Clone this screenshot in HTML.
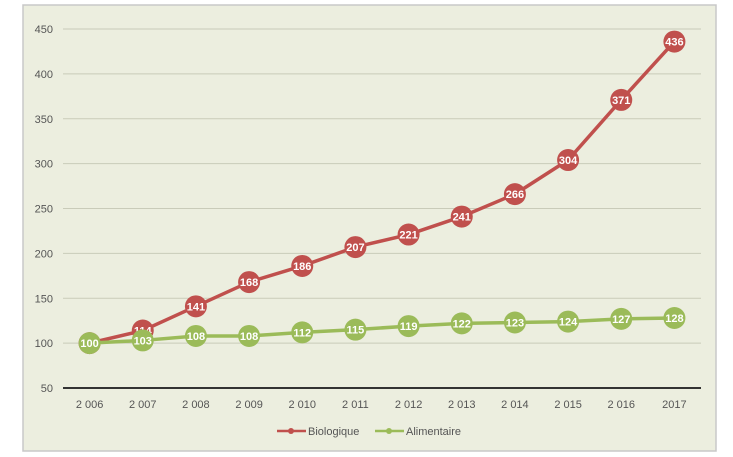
<!DOCTYPE html>
<html><head><meta charset="utf-8"><style>
html,body{margin:0;padding:0;background:#fff;width:733px;height:457px;overflow:hidden}
svg{display:block;font-family:"Liberation Sans",sans-serif}
</style></head><body>
<svg width="733" height="457">
<rect x="23" y="5" width="693" height="446" fill="#eceedf" stroke="#c8c8c8" stroke-width="1.5"/>
<g id="grid"></g><g id="series"></g>
<g>
 <g>
  <line x1="277" y1="431" x2="306" y2="431" stroke="#c0504d" stroke-width="2.5"/><circle cx="291" cy="431" r="3" fill="#c0504d"/>
  <text x="308" y="435" font-size="11" fill="#555">Biologique</text></g>
 <g>
  <line x1="375" y1="431" x2="404" y2="431" stroke="#9bbb59" stroke-width="2.5"/><circle cx="389" cy="431" r="3" fill="#9bbb59"/>
  <text x="406" y="435" font-size="11" fill="#555">Alimentaire</text></g>
</g>
</svg>
<script>
const categories=["2 006","2 007","2 008","2 009","2 010","2 011","2 012","2 013","2 014","2 015","2 016","2017"];
const biologique=[100,114,141,168,186,207,221,241,266,304,371,436];
const alimentaire=[100,103,108,108,112,115,119,122,123,124,127,128];
const yTicks=[50,100,150,200,250,300,350,400,450];
const NS="http://www.w3.org/2000/svg";
const x0=63,x1=701,yMin=50,yMax=450,py0=388,py1=29;
const bw=(x1-x0)/categories.length;
const xs=i=>x0+bw*(i+0.5);
const ys=v=>py0-(v-yMin)/(yMax-yMin)*(py0-py1);
function mk(t,a,p){const e=document.createElementNS(NS,t);for(const k in a)e.setAttribute(k,a[k]);p.appendChild(e);return e;}
const g=document.getElementById('grid');
yTicks.forEach(v=>{
 const l=mk('line',{x1:x0,x2:x1,y1:ys(v),y2:ys(v),stroke:v===50?'#333':'#c9cbb9','stroke-width':v===50?2:1},g);
 
 
 const t=mk('text',{x:53,y:ys(v)+4,'text-anchor':'end','font-size':11,fill:'#555'},g);t.textContent=v;
 
 
});
categories.forEach((c,i)=>{
 const t=mk('text',{x:xs(i),y:408,'text-anchor':'middle','font-size':11,fill:'#555'},g);t.textContent=c;
 
 
});
const s=document.getElementById('series');
function draw(data,color,name){
 const grp=mk('g',{},s);
 
 
 const pl=mk('polyline',{points:data.map((v,i)=>xs(i)+','+ys(v)).join(' '),fill:'none',stroke:color,'stroke-width':3.5},grp);
 
 
 data.forEach((v,i)=>{
  const c=mk('circle',{cx:xs(i),cy:ys(v),r:11,fill:color},grp);
  
  
  const t=mk('text',{x:xs(i),y:ys(v)+4,'text-anchor':'middle','font-size':11,'font-weight':'bold',fill:'#fff'},grp);t.textContent=v;
  
  
 });
}
draw(biologique,'#c0504d','biologique');
draw(alimentaire,'#9bbb59','alimentaire');
</script>
</body></html>
